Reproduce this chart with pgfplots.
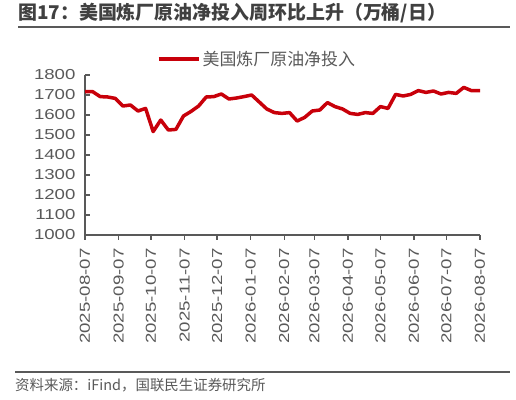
\documentclass[border=0pt]{standalone}
\usepackage{pgfplots}
\pgfplotsset{compat=1.18}
\usepackage{fontspec}
\setmainfont{Liberation Sans}
\newfontfamily\tickfont{Liberation Sans}[FakeStretch=1.29]
\newfontfamily\cjk{Noto Sans CJK SC}
\definecolor{linered}{RGB}{200,0,10}
\definecolor{axgray}{RGB}{89,89,89}
\definecolor{titlegray}{RGB}{64,64,64}
\begin{document}
\begin{tikzpicture}
\path[use as bounding box] (0,0) rectangle (516bp,400bp);
% title
\node[anchor=west, inner sep=0pt, text=titlegray] at (18bp,386.5bp) {\cjk\bfseries\fontsize{19}{22}\selectfont 图17：美国炼厂原油净投入周环比上升（万桶/日）};
\draw[axgray, line width=1.8bp] (18bp,373bp) -- (510bp,373bp);
% source
\draw[axgray, line width=1.8bp] (15bp,28bp) -- (510bp,28bp);
\node[anchor=west, inner sep=0pt, text=axgray] at (15bp,15bp) {\cjk\fontsize{14.5}{16}\selectfont 资料来源：iFind，国联民生证券研究所};
\begin{axis}[
  at={(85bp,165bp)}, anchor=south west,
  width=395bp, height=160bp, scale only axis,
  xmin=0, xmax=365, ymin=1000, ymax=1800,
  axis lines*=left,
  axis line style={axgray, line width=1.2bp},
  xtick={0,31,61,92,122,153,184,212,243,273,304,334,365},
  xticklabels={2025-08-07,2025-09-07,2025-10-07,2025-11-07,2025-12-07,2026-01-07,2026-02-07,2026-03-07,2026-04-07,2026-05-07,2026-06-07,2026-07-07,2026-08-07},
  ytick={1000,1100,...,1800},
  xtick align=outside, ytick align=inside,
  major tick length=5bp,
  tick style={axgray, line width=1.2bp},
  tick label style={font=\tickfont\fontsize{14.5}{16}\selectfont, text=axgray},
  /pgf/number format/assume math mode=true,
  /pgf/number format/1000 sep={},
  x tick label style={rotate=90, anchor=east},
  xticklabel shift=5bp,
  y tick label style={anchor=east, xshift=-6bp},
  legend style={at={(0.435,1.1)}, anchor=center, draw=none, fill=none,
    font=\cjk\fontsize{17}{19}\selectfont, text=axgray, inner sep=0pt},
  legend image code/.code={\draw[#1, line width=4bp] (0bp,0bp) -- (40bp,0bp);},
  legend cell align=left,
]
\addplot[linered, line width=3.5bp, line join=round] coordinates {
(0,1717)(7,1717)(14,1692)(21,1690)(28,1683)(35,1645)(42,1650)(49,1620)(56,1633)(63,1517)
(70,1575)(77,1525)(84,1528)(91,1595)(98,1618)(105,1645)(112,1690)(119,1692)(126,1705)(133,1680)
(140,1685)(147,1692)(154,1700)(161,1665)(168,1630)(175,1612)(182,1608)(189,1612)(196,1570)(203,1588)
(210,1620)(217,1625)(224,1662)(231,1642)(238,1630)(245,1608)(252,1603)(259,1612)(266,1608)(273,1642)
(280,1633)(287,1703)(294,1695)(301,1703)(308,1722)(315,1713)(322,1720)(329,1705)(336,1713)(343,1708)
(350,1738)(357,1722)(365,1722)
};
\addlegendentry{美国炼厂原油净投入}
\end{axis}
\end{tikzpicture}
\end{document}
